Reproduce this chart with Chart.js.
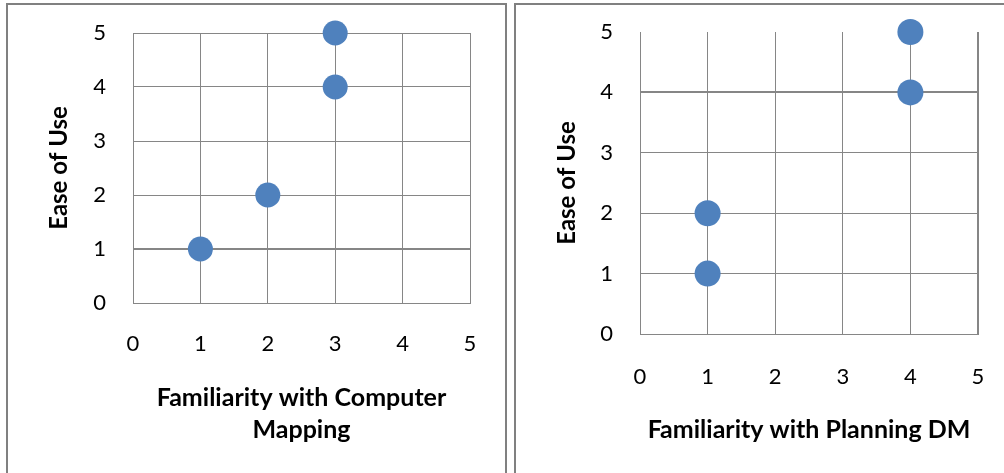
<!DOCTYPE html>
<html>
<head>
<meta charset="utf-8">
<script src="https://cdn.jsdelivr.net/npm/chart.js@4/dist/chart.umd.min.js"></script>
<style>
  html, body { margin: 0; padding: 0; background: #fff; }
  body { width: 1004px; height: 473px; position: relative; overflow: hidden; }
  .box { position: absolute; top: 3px; border: 2px solid #808080; border-bottom: none; background: #fff; }
  #boxL { left: 6px; width: 497px; height: 468px; }
  #boxR { left: 514px; width: 492px; height: 468px; }
  canvas { display: block; }
</style>
</head>
<body>
<div class="box" id="boxL"><canvas id="cL" width="497" height="468"></canvas></div>
<div class="box" id="boxR"><canvas id="cR" width="488" height="468"></canvas></div>
<script>
// ---- data ----
const leftX = [1, 2, 3, 3];
const leftY = [1, 2, 4, 5];
const rightX = [1, 1, 4, 4];
const rightY = [1, 2, 4, 5];
const xTitleLeft = ['Familiarity with Computer', 'Mapping'];
const xTitleRight = 'Familiarity with Planning DM';
const yTitle = 'Ease of Use';
const tickValues = [0, 1, 2, 3, 4, 5];

const GRID = '#868686';
const DOT = '#4F81BD';
const FONT = 'Lato, "Open Sans", sans-serif';

function makeChart(id, xs, ys, cfg) {
  const pts = xs.map((x, i) => ({ x: x, y: ys[i] }));
  return new Chart(document.getElementById(id), {
    type: 'scatter',
    data: { datasets: [{ data: pts, backgroundColor: DOT, borderColor: DOT, pointRadius: cfg.r, pointHoverRadius: cfg.r, borderWidth: 0, clip: false }] },
    options: {
      responsive: false,
      animation: false,
      events: [],
      layout: { autoPadding: false, padding: { top: cfg.top, right: cfg.right, left: 0, bottom: 0 } },
      plugins: { legend: { display: false }, tooltip: { enabled: false } },
      scales: {
        x: {
          type: 'linear', min: 0, max: 5,
          afterBuildTicks: s => { s.ticks = tickValues.map(v => ({ value: v })); },
          afterFit: s => { s.height = cfg.xh; s.paddingLeft = 0; s.paddingRight = 0; },
          grid: { color: GRID, drawTicks: false, lineWidth: c => cfg.xLW(c.tick ? c.tick.value : 0) },
          border: { color: GRID, width: 1 },
          ticks: { padding: cfg.xpad, color: '#000', font: { family: FONT, size: 22 }, maxRotation: 0 },
          title: { display: true, text: cfg.xTitle, color: '#000', font: { family: FONT, size: 25, weight: 'bold', lineHeight: '32px' }, padding: { top: 0, bottom: 27 } }
        },
        y: {
          type: 'linear', min: 0, max: 5,
          afterBuildTicks: s => { s.ticks = tickValues.map(v => ({ value: v })); },
          afterFit: s => { s.width = cfg.yw; s.paddingTop = 0; s.paddingBottom = 0; },
          grid: { color: GRID, drawTicks: false, lineWidth: c => cfg.yLW(c.tick ? c.tick.value : 0) },
          border: { color: GRID, width: 1 },
          ticks: { padding: 27, color: '#000', font: { family: FONT, size: 22 } },
          title: { display: true, text: yTitle, color: '#000', font: { family: FONT, size: 24, weight: 'bold', lineHeight: 1.2 }, padding: { top: 37, bottom: 0 } }
        }
      }
    }
  });
}

makeChart('cL', leftX, leftY, {
  r: 12.5, top: 28, right: 35, yw: 125, xh: 170, xpad: 28,
  xTitle: xTitleLeft,
  xLW: v => 1,
  yLW: v => (v === 1 ? 2 : 1)
});
makeChart('cR', rightX, rightY, {
  r: 13, top: 27, right: 26, yw: 124, xh: 139, xpad: 30,
  xTitle: xTitleRight,
  xLW: v => (v === 5 ? 2 : 1),
  yLW: v => (v === 4 ? 2 : (v === 5 ? 0 : 1))
});
</script>
</body>
</html>
